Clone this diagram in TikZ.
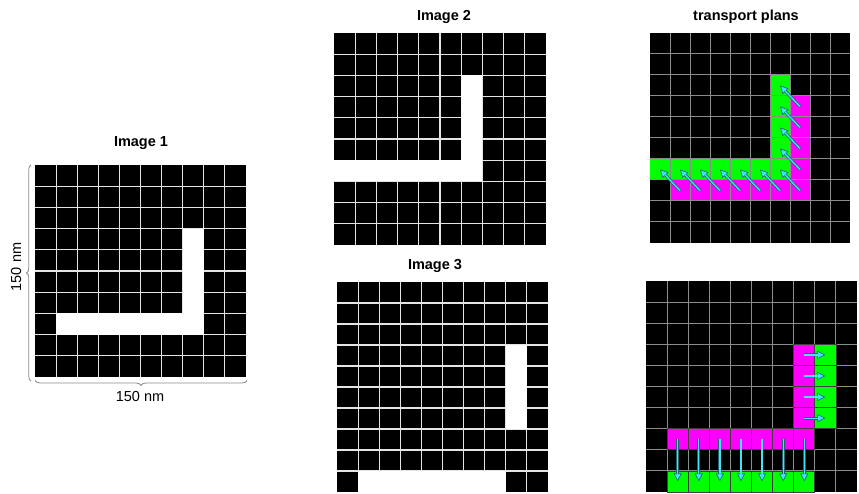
\documentclass[tikz,border=0pt]{standalone}
\usepackage{fontspec}
\setmainfont{Liberation Sans}
\usetikzlibrary{arrows.meta,decorations.pathreplacing}
\definecolor{lgreen}{RGB}{0,255,0}
\definecolor{lmag}{RGB}{255,0,255}
\definecolor{arrcyan}{RGB}{64,228,245}
\definecolor{arredge}{RGB}{30,100,115}
\definecolor{tpgrid}{RGB}{140,140,140}
\definecolor{imgrid}{RGB}{228,228,228}
\definecolor{bracegray}{RGB}{140,140,140}
\newcommand\tparrow[2]{%
  \draw[line width=2.8pt, draw=arredge, -{Triangle[length=8pt,width=8pt,fill=arrcyan,line width=0.6pt]}] (#1) -- (#2);
  \draw[line width=1.3pt, draw=arrcyan, shorten >=7.4pt] (#1) -- (#2);
}
\begin{document}
\begin{tikzpicture}[x=1pt,y=-1pt,
  ttl/.style={font=\fontsize{14.5}{17}\selectfont\bfseries, inner sep=0pt, anchor=base},
  lbl/.style={font=\fontsize{14.5}{17}\selectfont, inner sep=0pt, anchor=base},
  imline/.style={draw=imgrid, line width=1.1pt},
  tpline/.style={draw=tpgrid, line width=1pt},
  magcell/.style={fill=lmag, draw=black!75, line width=0.7pt},
  grecell/.style={fill=lgreen, draw=black!75, line width=0.7pt},
  bracestyle/.style={draw=bracegray, line width=0.8pt, decorate}]
\useasboundingbox (0,0) rectangle (859,494);
\fill[white] (0,0) rectangle (859,494);

% ---------- titles ----------
\node[ttl] (t1) at (141,147) {Image 1};
\node[ttl] (t2) at (444,21) {Image 2};
\node[ttl] (t3) at (435,270) {Image 3};
\node[ttl] (t4) at (746,20.5) {transport plans};

% ---------- Image 1 ----------
\begin{scope}[shift={(35,165)},x=21.1pt,y=-21.2pt]
  \fill[black] (0,0) rectangle (10,10);
  \foreach \i in {1,...,9}{\draw[imline] (\i,0) -- (\i,10); \draw[imline] (0,\i) -- (10,\i);}
  \fill[white] (7,3) rectangle (8,8);
  \fill[white] (1,7) rectangle (8,8);
\end{scope}

% braces and size labels
\draw[bracestyle, decoration={brace, amplitude=4.5pt}] (31,381) -- (31,165);
\draw[bracestyle, decoration={brace, amplitude=5pt}] (247,380.5) -- (35,380.5);
\node[lbl, rotate=90] (lv) at (21,267) {150 nm};
\node[lbl] (lh) at (140,401) {150 nm};

% ---------- Image 2 ----------
\begin{scope}[shift={(334,33)},x=21.2pt,y=-21.2pt]
  \fill[black] (0,0) rectangle (10,10);
  \foreach \i in {1,...,9}{\draw[imline] (\i,0) -- (\i,10); \draw[imline] (0,\i) -- (10,\i);}
  \fill[white] (6,2) rectangle (7,7);
  \fill[white] (0,6) rectangle (7,7);
\end{scope}

% ---------- Image 3 ----------
\begin{scope}[shift={(337,282)},x=21.1pt,y=-21pt]
  \fill[black] (0,0) rectangle (10,10);
  \foreach \i in {1,...,9}{\draw[imline] (\i,0) -- (\i,10); \draw[imline] (0,\i) -- (10,\i);}
  \fill[white] (8,3) rectangle (9,7);
  \fill[white] (1,9) rectangle (8,10);
\end{scope}

% ---------- transport plan (top) ----------
\begin{scope}[shift={(650,33)},x=20pt,y=-21pt]
  \fill[black] (0,0) rectangle (10,10);
  \fill[lmag] (7,3) rectangle (8,8);
  \fill[lmag] (1,7) rectangle (8,8);
  \fill[lgreen] (6,2) rectangle (7,7);
  \fill[lgreen] (0,6) rectangle (7,7);
  \foreach \i in {1,...,9}{\draw[tpline] (\i,0) -- (\i,10); \draw[tpline] (0,\i) -- (10,\i);}
  \foreach \c/\r in {7/3,7/4,7/5,7/6,7/7,1/7,2/7,3/7,4/7,5/7,6/7}{
    \coordinate (as\c\r) at (\c+0.5,\r+0.5);
    \coordinate (at\c\r) at (\c-0.5,\r-0.5);
  }
\end{scope}
\foreach \c/\r in {7/3,7/4,7/5,7/6,7/7,1/7,2/7,3/7,4/7,5/7,6/7}{\tparrow{as\c\r}{at\c\r}}

% ---------- transport plan (bottom) ----------
\begin{scope}[shift={(646,281)},x=21.1pt,y=-21.1pt]
  \fill[black] (0,0) rectangle (10,10);
  \foreach \i in {1,...,9}{\draw[tpline] (\i,0) -- (\i,10); \draw[tpline] (0,\i) -- (10,\i);}
  \foreach \c/\r in {7/3,7/4,7/5,7/6,1/7,2/7,3/7,4/7,5/7,6/7,7/7}{\filldraw[magcell] (\c,\r) rectangle ++(1,1);}
  \foreach \c/\r in {8/3,8/4,8/5,8/6,1/9,2/9,3/9,4/9,5/9,6/9,7/9}{\filldraw[grecell] (\c,\r) rectangle ++(1,1);}
  \foreach \r in {3,...,6}{
    \coordinate (bs7\r) at (7.5,\r+0.5);
    \coordinate (bt7\r) at (8.5,\r+0.5);
  }
  \foreach \c in {1,...,7}{
    \coordinate (cs\c) at (\c+0.5,7.5);
    \coordinate (ct\c) at (\c+0.5,9.5);
  }
\end{scope}
\foreach \r in {3,...,6}{\tparrow{bs7\r}{bt7\r}}
\foreach \c in {1,...,7}{\tparrow{cs\c}{ct\c}}
\end{tikzpicture}
\end{document}
